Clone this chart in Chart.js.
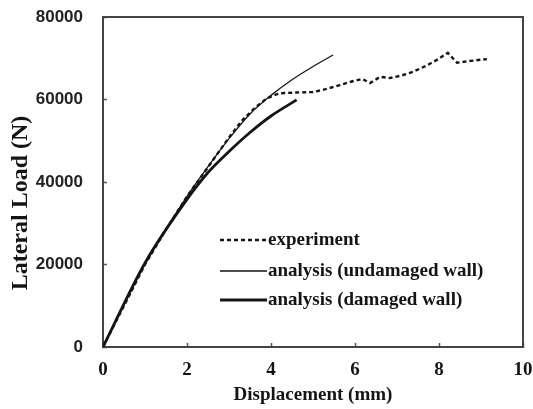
<!DOCTYPE html>
<html><head><meta charset="utf-8">
<script src="https://cdn.jsdelivr.net/npm/chart.js@4.4.1/dist/chart.umd.min.js"></script>
<style>html,body{margin:0;padding:0;background:#fff;overflow:hidden}canvas{display:block}</style>
</head><body>
<canvas id="c" width="533" height="409"></canvas>
<script>
// Experiment (dashed)
const expX = [0, 0.5, 1, 1.5, 2, 2.5, 3, 3.3, 3.6, 3.9, 4.2, 4.6, 5.0, 5.3, 5.64, 5.9, 6.17, 6.36, 6.6, 6.83, 7.1, 7.38, 7.7, 7.95, 8.21, 8.43, 8.7, 9.14];
const expY = [0, 10000, 20000, 28500, 36500, 43600, 50800, 54800, 57800, 60300, 61500, 61700, 61800, 62500, 63500, 64300, 65000, 64000, 65500, 65200, 65800, 66700, 68200, 69600, 71300, 68900, 69300, 69800];
// Analysis, undamaged wall (thin solid)
const undX = [0, 1, 2, 2.5, 3, 3.5, 4, 4.5, 5, 5.48];
const undY = [0, 20000, 36500, 43700, 50500, 56500, 61000, 64800, 68000, 70800];
// Analysis, damaged wall (thick solid)
const dmgX = [0, 1, 2, 2.5, 3, 3.5, 4, 4.61];
const dmgY = [0, 20400, 35800, 42300, 47400, 52000, 56000, 59900];
// Axis ticks
const xTicks = [0, 2, 4, 6, 8, 10];
const yTicks = [0, 20000, 40000, 60000, 80000];
const seriesNames = ['experiment', 'analysis (undamaged wall)', 'analysis (damaged wall)'];

const pts = (xs, ys) => xs.map((x, i) => ({x: x, y: ys[i]}));
const serif = 'Liberation Serif';
const sans = 'Liberation Sans';
const ink = '#151515';

const frame = {
  id: 'frame',
  afterDatasetsDraw(chart) {
    const {ctx, chartArea: a} = chart;
    ctx.save();
    ctx.strokeStyle = '#444';
    ctx.lineWidth = 2;
    ctx.beginPath();
    ctx.moveTo(a.left, a.top);
    ctx.lineTo(a.right, a.top);
    ctx.lineTo(a.right, a.bottom);
    ctx.stroke();
    ctx.restore();
  }
};

const legendBox = {
  id: 'legendBox',
  afterDraw(chart) {
    const {ctx, chartArea: a} = chart;
    const x0 = a.left + 117, x1 = a.left + 164;
    const rows = [240, 271, 300];
    ctx.save();
    ctx.font = 'bold 19px "' + serif + '"';
    ctx.fillStyle = ink;
    ctx.textBaseline = 'middle';
    chart.data.datasets.forEach((ds, i) => {
      const y = rows[i];
      ctx.strokeStyle = ds.borderColor;
      ctx.lineWidth = ds.borderWidth;
      ctx.setLineDash(ds.borderDash || []);
      ctx.beginPath();
      ctx.moveTo(x0, y);
      ctx.lineTo(x1, y);
      ctx.stroke();
      ctx.setLineDash([]);
      ctx.fillText(ds.label, x1 + 1, y);
    });
    ctx.restore();
  }
};

new Chart(document.getElementById('c'), {
  type: 'line',
  data: {
    datasets: [
      {label: seriesNames[0], data: pts(expX, expY), borderColor: ink, borderWidth: 2.4, borderDash: [4, 3], pointRadius: 0, tension: 0, fill: false},
      {label: seriesNames[1], data: pts(undX, undY), borderColor: ink, borderWidth: 1.3, pointRadius: 0, cubicInterpolationMode: 'monotone', fill: false},
      {label: seriesNames[2], data: pts(dmgX, dmgY), borderColor: ink, borderWidth: 2.8, pointRadius: 0, cubicInterpolationMode: 'monotone', fill: false}
    ]
  },
  options: {
    responsive: false,
    animation: false,
    devicePixelRatio: 1,
    layout: {padding: {top: 17, right: 10, left: 0, bottom: 0}},
    plugins: {legend: {display: false}, tooltip: {enabled: false}},
    scales: {
      x: {
        type: 'linear', min: 0, max: 10,
        afterBuildTicks: s => { s.ticks = xTicks.map(v => ({value: v})); },
        afterFit: s => { s.height = 62; s.paddingLeft = 0; s.paddingRight = 0; },
        ticks: {font: {family: serif, size: 19, weight: 'bold'}, color: ink, padding: 16, maxRotation: 0, autoSkip: false},
        grid: {drawOnChartArea: false, tickLength: -4, color: '#555', tickWidth: 1.5},
        border: {color: '#444', width: 2},
        title: {display: true, text: 'Displacement (mm)', color: ink, font: {family: serif, size: 19, weight: 'bold'}, padding: {top: 0, bottom: 3}}
      },
      y: {
        type: 'linear', min: 0, max: 80000,
        afterBuildTicks: s => { s.ticks = yTicks.map(v => ({value: v})); },
        afterFit: s => { s.width = 103; s.paddingTop = 0; s.paddingBottom = 0; },
        ticks: {font: {family: sans, size: 17, weight: 'bold'}, color: '#222', padding: 24, callback: v => String(v), autoSkip: false},
        grid: {drawOnChartArea: false, tickLength: -4, color: '#555', tickWidth: 1.5},
        border: {color: '#444', width: 2},
        title: {display: true, text: 'Lateral Load (N)       ', color: ink, font: {family: serif, size: 24, weight: 'bold'}, padding: {top: 6, bottom: 0}}
      }
    }
  },
  plugins: [frame, legendBox]
});
</script>
</body></html>
